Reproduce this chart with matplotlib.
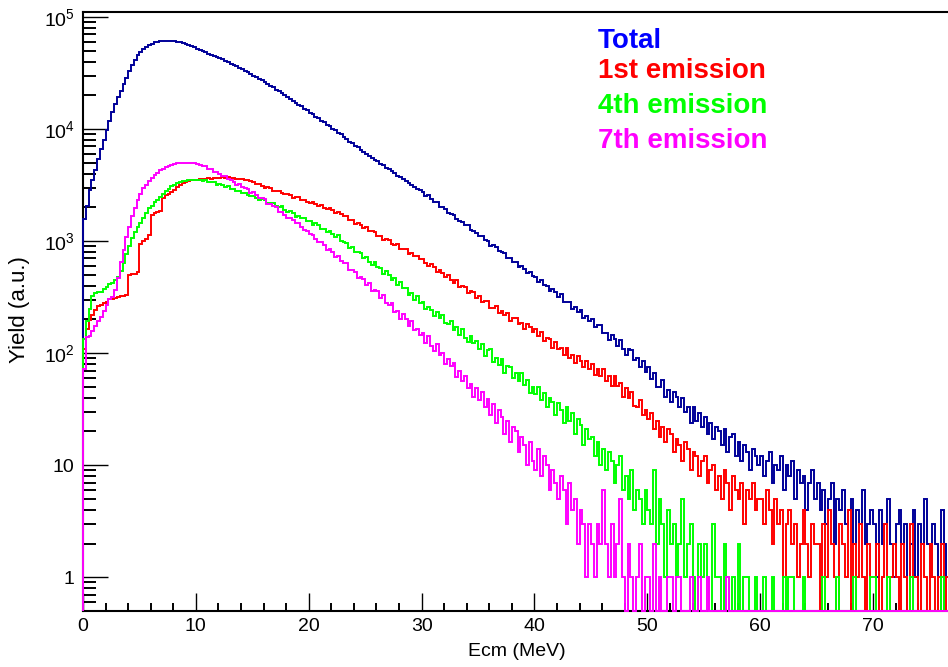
import numpy as np
import matplotlib
matplotlib.use("Agg")
import matplotlib.pyplot as plt
from matplotlib import font_manager as fm
from matplotlib.ticker import LogLocator, FuncFormatter, MultipleLocator, NullFormatter

# ---------------- data (counts per 0.25 MeV bin, starting at 0 MeV) ----------------
BIN_WIDTH = 0.25

total = [
    1580, 2060, 2870, 3530, 4280, 5420, 6650, 8040, 9870, 11830, 14260, 16640, 19350, 21950, 25080, 28430, 33050, 36980, 41070, 45420,
    48940, 52110, 54380, 56620, 57950, 59360, 60140, 60870, 61150, 61560, 61420, 61270, 60730, 60290, 59410, 58560, 57240, 56080, 54730, 53560,
    52240, 51060, 49750, 48580, 47210, 46170, 44930, 43960, 42740, 41780, 40520, 39680, 38430, 37460, 36220, 35290, 34030, 33170, 32040, 31180,
    30020, 29260, 28130, 27370, 26320, 25470, 24310, 23580, 22510, 21780, 20810, 20160, 19240, 18670, 17830, 17260, 16420, 15960, 15130, 14670,
    13930, 13560, 12840, 12450, 11830, 11460, 10930, 10560, 10040, 9760, 9240, 8950, 8440, 8200, 7740, 7500, 7090, 6900, 6490, 6300,
    5990, 5790, 5560, 5310, 5140, 4900, 4750, 4520, 4390, 4190, 4050, 3850, 3740, 3570, 3420, 3320, 3160, 3060, 2920, 2830,
    2727, 2538, 2554, 2370, 2247, 2213, 2018, 2010, 1938, 1784, 1740, 1720, 1584, 1499, 1489, 1386, 1380, 1254, 1230, 1187,
    1103, 1107, 1020, 1005, 907, 914, 891, 813, 795, 790, 705, 703, 653, 656, 586, 596, 565, 519, 532, 485,
    483, 431, 452, 403, 397, 357, 374, 351, 319, 334, 289, 288, 289, 247, 259, 235, 243, 208, 213, 194,
    201, 171, 179, 178, 150, 151, 132, 145, 134, 116, 130, 109, 97, 108, 106, 87, 90, 75, 85, 68,
    75, 59, 67, 50, 50, 58, 41, 47, 37, 45, 41, 33, 40, 30, 33, 24, 33, 25, 29, 22,
    27, 19, 24, 17, 22, 20, 15, 21, 13, 18, 19, 12, 16, 11, 15, 13, 9, 14, 12, 10,
    12, 8, 11, 13, 7, 10, 9, 12, 6, 10, 8, 11, 5, 9, 7, 8, 4, 7, 9, 5,
    7, 4, 6, 3, 5, 7, 2, 5, 4, 6, 3, 4, 5, 2, 4, 3, 6, 2, 3, 4,
    3, 1, 4, 2, 3, 5, 2, 1, 3, 4, 2, 3, 0, 2, 4, 1, 3, 2, 5, 2,
    1, 3, 2, 0, 4, 2, 1, 3,
]

first = [
    108, 163, 197, 218, 243, 262, 268, 283, 287, 302, 304, 313, 315, 322, 326, 331, 497, 508, 512, 527,
    938, 993, 1036, 1128, 1716, 1789, 1803, 1846, 2437, 2568, 2651, 2772, 2881, 3049, 3182, 3323, 3381, 3452, 3478, 3524,
    3531, 3577, 3581, 3612, 3628, 3619, 3661, 3648, 3693, 3701, 3682, 3705, 3661, 3658, 3609, 3597, 3549, 3531, 3482, 3471,
    3373, 3237, 3264, 3130, 2999, 3030, 2959, 2813, 2810, 2805, 2673, 2624, 2652, 2576, 2450, 2460, 2458, 2346, 2343, 2234,
    2208, 2234, 2140, 2058, 2112, 1980, 1921, 1958, 1889, 1775, 1826, 1740, 1673, 1679, 1548, 1545, 1436, 1459, 1404, 1313,
    1326, 1222, 1232, 1215, 1117, 1100, 1027, 1051, 1030, 951, 926, 941, 849, 859, 845, 763, 785, 738, 742, 686,
    695, 637, 600, 624, 584, 528, 551, 524, 475, 500, 449, 427, 449, 392, 396, 392, 341, 356, 353, 313,
    323, 284, 294, 294, 255, 251, 265, 226, 239, 217, 228, 195, 207, 208, 181, 185, 163, 181, 171, 154,
    163, 142, 154, 128, 136, 134, 112, 126, 108, 112, 97, 111, 91, 97, 81, 94, 86, 75, 86, 72,
    80, 64, 72, 63, 72, 57, 62, 51, 62, 51, 54, 41, 49, 40, 45, 34, 33, 38, 28, 31,
    26, 29, 21, 25, 18, 22, 16, 21, 19, 13, 17, 15, 11, 16, 14, 9, 13, 12, 8, 11,
    12, 7, 9, 10, 6, 8, 5, 9, 7, 4, 8, 6, 5, 7, 3, 6, 5, 7, 4, 5,
    5, 3, 6, 4, 2, 5, 3, 4, 1, 3, 4, 2, 3, 1, 2, 4, 2, 1, 3, 2,
    2, 0, 3, 1, 4, 2, 1, 0, 3, 2, 1, 4, 0, 2, 1, 3, 1, 0, 2, 1,
    1, 2, 0, 1, 3, 0, 1, 2, 1, 0, 2, 1, 0, 3, 1, 1, 0, 2, 1, 0,
    2, 1, 0, 1, 2, 0, 1, 1,
]

fourth = [
    133, 192, 247, 322, 342, 353, 351, 373, 388, 413, 421, 448, 477, 545, 636, 763, 896, 1075, 1194, 1338,
    1443, 1608, 1792, 1958, 2071, 2213, 2331, 2494, 2627, 2812, 2938, 3094, 3186, 3316, 3371, 3442, 3458, 3516, 3507, 3541,
    3510, 3525, 3425, 3499, 3366, 3360, 3343, 3195, 3232, 3140, 3049, 3080, 2930, 2929, 2773, 2798, 2700, 2693, 2564, 2530,
    2540, 2416, 2342, 2363, 2336, 2195, 2190, 2183, 2069, 1999, 2050, 1911, 1833, 1846, 1768, 1649, 1683, 1594, 1617, 1499,
    1505, 1407, 1438, 1397, 1290, 1293, 1215, 1236, 1148, 1098, 1123, 999, 990, 959, 864, 886, 804, 798, 783, 701,
    721, 657, 614, 646, 584, 576, 513, 536, 500, 451, 464, 404, 431, 382, 385, 333, 345, 299, 323, 278,
    288, 246, 259, 245, 214, 233, 205, 218, 184, 182, 194, 160, 170, 144, 165, 137, 127, 143, 122, 128,
    109, 120, 95, 106, 108, 84, 91, 78, 89, 67, 77, 76, 60, 67, 56, 66, 52, 58, 44, 50,
    43, 50, 38, 44, 33, 40, 37, 28, 36, 31, 24, 33, 25, 29, 19, 26, 23, 15, 21, 17,
    18, 12, 16, 10, 14, 9, 13, 11, 7, 10, 12, 6, 8, 5, 9, 4, 6, 5, 3, 6,
    4, 3, 9, 2, 5, 3, 1, 4, 2, 3, 1, 2, 5, 1, 2, 3, 1, 0, 2, 1,
    2, 1, 0, 3, 1, 1, 0, 2, 1, 0, 1, 0, 2, 0, 1, 1, 0, 0, 1, 0,
    0, 1, 0, 0, 1, 0, 0, 0, 1, 0, 1, 1, 0, 0, 0, 1, 0, 0, 0, 0,
    0, 0, 1, 0, 0, 0, 0, 1, 0, 0, 0, 0, 0, 1, 0, 0, 0, 0, 0, 1,
    1, 0, 0, 0, 0, 1, 0, 0, 0, 0, 0, 0, 0, 1, 0, 0, 0, 0, 0, 0,
    0, 0, 0, 0, 1, 0, 0, 0,
]

seventh = [
    72, 138, 143, 157, 176, 192, 212, 238, 268, 303, 317, 364, 468, 645, 826, 1086, 1343, 1691, 1972, 2311,
    2641, 2962, 3188, 3466, 3688, 3921, 4087, 4268, 4391, 4572, 4663, 4801, 4838, 4941, 4952, 5012, 4987, 5003, 4948, 4934,
    4909, 4732, 4690, 4692, 4445, 4424, 4175, 4181, 4010, 3841, 3825, 3584, 3490, 3404, 3195, 3213, 3020, 2950, 2889, 2715,
    2734, 2564, 2450, 2434, 2366, 2163, 2161, 2050, 1999, 1833, 1808, 1703, 1601, 1622, 1545, 1441, 1452, 1337, 1264, 1242,
    1147, 1143, 1049, 980, 979, 924, 835, 855, 806, 728, 738, 662, 634, 635, 552, 556, 530, 466, 474, 458,
    407, 420, 357, 369, 358, 309, 330, 278, 270, 281, 231, 240, 203, 223, 203, 176, 195, 162, 166, 146,
    152, 124, 141, 115, 104, 120, 96, 101, 80, 88, 77, 81, 61, 70, 57, 63, 49, 53, 41, 49,
    38, 45, 33, 39, 28, 35, 24, 31, 27, 19, 25, 16, 22, 20, 13, 18, 15, 10, 16, 11,
    9, 14, 8, 12, 10, 6, 9, 7, 5, 8, 6, 3, 7, 4, 5, 2, 4, 3, 1, 3,
    2, 1, 3, 2, 6, 2, 1, 3, 1, 2, 5, 1, 0, 2, 1, 0, 1, 2, 0, 1,
    1, 0, 2, 0, 1, 0, 0, 1, 1, 0, 1, 1, 0, 0, 0, 1, 0, 0, 1, 0,
    0, 1, 0, 0, 0, 0, 0, 0, 1, 0, 0, 0, 0, 0, 0, 0, 0, 0, 0, 0,
    0, 0, 0, 0, 0, 0, 0, 0, 0, 0, 0, 0, 0, 0, 0, 0, 0, 0, 0, 0,
    0, 0, 0, 0, 0, 0, 0, 0, 0, 0, 0, 0, 0, 0, 0, 0, 0, 0, 0, 0,
    0, 0, 0, 0, 0, 0, 0, 0, 0, 0, 0, 0, 0, 0, 0, 0, 0, 0, 0, 0,
    0, 0, 0, 0, 0, 0, 0, 0,
]

series = [total, first, fourth, seventh]
series_labels = ["Total", "1st emission", "4th emission", "7th emission"]
line_colors = ["#000099", "#ff0000", "#00ff00", "#ff00ff"]
text_colors = ["#0000ff", "#ff0000", "#00ff00", "#ff00ff"]

x_label = "Ecm (MeV)"
y_label = "Yield (a.u.)"

# ---------------- fonts ----------------
names = {f.name for f in fm.fontManager.ttflist}
NARROW = "Liberation Sans Narrow" in names
FONT = "Liberation Sans Narrow" if NARROW else "Liberation Sans"
TICK_SIZE = 17 if NARROW else 14
LEG_SIZE = 24 if NARROW else 20

plt.rcParams["font.family"] = [FONT, "DejaVu Sans"]
plt.rcParams["mathtext.fontset"] = "custom"
plt.rcParams["mathtext.rm"] = FONT
plt.rcParams["mathtext.it"] = FONT
plt.rcParams["mathtext.bf"] = FONT

# ---------------- figure ----------------
W, H = 948, 667
fig = plt.figure(figsize=(W / 100, H / 100), dpi=100)
ax_left, ax_right, ax_top, ax_bottom = 83, 951, 11.5, 611
ax = fig.add_axes([ax_left / W, 1 - ax_bottom / H, (ax_right - ax_left) / W, (ax_bottom - ax_top) / H])

YMIN, YMAX = 0.5, 1.12e5
XMAX = 76.9

for vals, col in zip(series, line_colors):
    v = np.asarray(vals, dtype=float)
    edges = np.arange(len(v) + 1) * BIN_WIDTH
    ax.stairs(np.maximum(v, YMIN), edges, baseline=YMIN, color=col,
              linewidth=1.4, zorder=3, clip_on=False)

ax.set_yscale("log")
ax.set_xlim(0, XMAX)
ax.set_ylim(YMIN, YMAX)

def yfmt(val, pos):
    e = int(round(np.log10(val)))
    if e == 0:
        return "1"
    if e == 1:
        return "10"
    return r"$10^{%d}$" % e

ax.yaxis.set_major_locator(LogLocator(base=10, numticks=20))
ax.yaxis.set_minor_locator(LogLocator(base=10, subs=np.arange(2, 10), numticks=20))
ax.yaxis.set_major_formatter(FuncFormatter(yfmt))
ax.yaxis.set_minor_formatter(NullFormatter())
ax.xaxis.set_major_locator(MultipleLocator(10))
ax.xaxis.set_minor_locator(MultipleLocator(2))

ax.tick_params(which="both", direction="in", top=False, right=False, colors="black",
               labelsize=TICK_SIZE)
ax.tick_params(axis="y", which="major", length=18, width=1.0, pad=6)
ax.tick_params(axis="y", which="minor", length=9.5, width=1.4)
ax.tick_params(axis="x", which="major", length=13, width=1.0, pad=5)
ax.tick_params(axis="x", which="minor", length=6, width=1.4)

for s in ["left", "bottom", "top"]:
    ax.spines[s].set_linewidth(1.5)
    ax.spines[s].set_color("black")
ax.spines["right"].set_visible(False)

ax.set_xlabel(x_label, fontsize=TICK_SIZE, va="center")
ax.xaxis.set_label_coords(0.5, -(652 - ax_bottom) / (ax_bottom - ax_top))
ax.set_ylabel(y_label, fontsize=16, family=["Liberation Sans", "DejaVu Sans"], va="center")
ax.yaxis.set_label_coords((20 - ax_left) / (ax_right - ax_left), (ax_bottom - 310) / (ax_bottom - ax_top))

# coloured legend texts (ROOT TLatex style)
baselines = [48, 78, 113, 148]
for lab, col, yb in zip(series_labels, text_colors, baselines):
    fig.text(598 / W, 1 - yb / H, lab, color=col, fontsize=LEG_SIZE, fontweight="bold",
             ha="left", va="baseline")

fig.savefig("out.png", dpi=100)
